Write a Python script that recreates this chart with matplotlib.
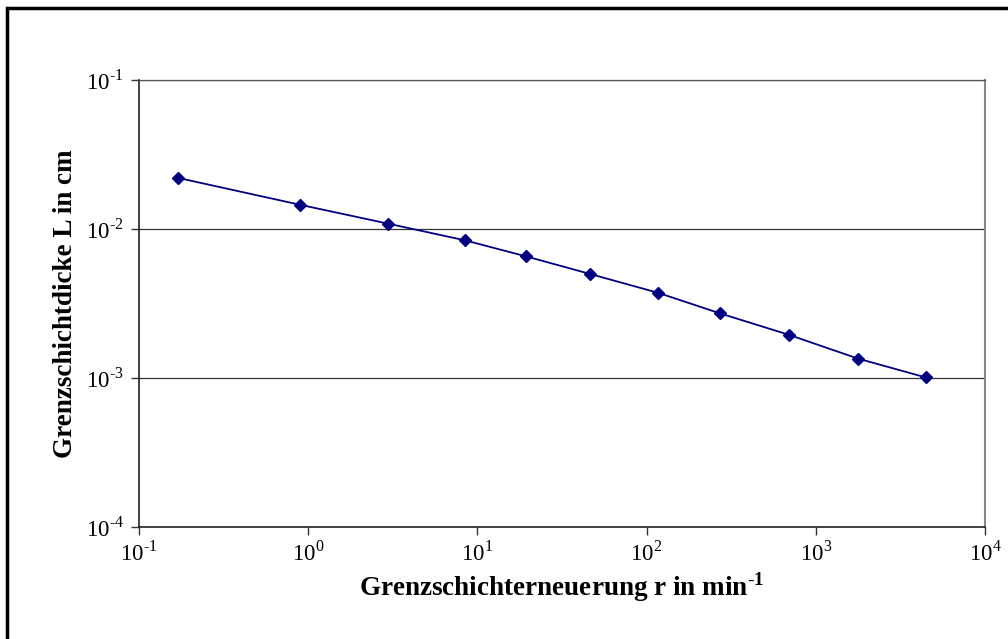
import numpy as np
import matplotlib
matplotlib.use("Agg")
import matplotlib.pyplot as plt
from matplotlib.patches import Rectangle
from matplotlib.ticker import FixedLocator, FuncFormatter, NullLocator

# ── Data ─────────────────────────────────────────────────────────────────────
r_renewal = [0.171, 0.893, 2.98, 8.46, 19.4, 46.1, 117, 273, 693, 1774, 4454]   # min^-1
thickness = [0.0220, 0.01455, 0.01085, 0.00839, 0.00655, 0.00500,
             0.00373, 0.00271, 0.00195, 0.00135, 0.00101]                         # cm

x_ticks = [1e-1, 1e0, 1e1, 1e2, 1e3, 1e4]
y_ticks = [1e-4, 1e-3, 1e-2, 1e-1]

xlabel = r"Grenzschichterneuerung r in min$^{\mathbf{\text{-}1}}$"
ylabel = "Grenzschichtdicke L in cm"

# ── Style ────────────────────────────────────────────────────────────────────
plt.rcParams["font.family"] = "Liberation Serif"
plt.rcParams["mathtext.fontset"] = "custom"
plt.rcParams["mathtext.rm"] = "Liberation Serif"
plt.rcParams["mathtext.bf"] = "Liberation Serif:bold"


def pow10(v, pos):
    e = int(round(np.log10(v)))
    return r"10$^{\text{%s}}$" % (("-" if e < 0 else "") + str(abs(e)))


fig = plt.figure(figsize=(10.08, 6.39), dpi=100)
ax = fig.add_axes([139 / 1008, 1 - 527 / 639, 846 / 1008, 447 / 639])

ax.plot(r_renewal, thickness, color="#000080", lw=1.3, marker="D",
        markersize=6, markerfacecolor="#000080", markeredgecolor="#000080")

ax.set_xscale("log")
ax.set_yscale("log")
ax.set_xlim(1e-1, 1e4)
ax.set_ylim(1e-4, 1e-1)

ax.xaxis.set_major_locator(FixedLocator(x_ticks))
ax.yaxis.set_major_locator(FixedLocator(y_ticks))
ax.xaxis.set_minor_locator(NullLocator())
ax.yaxis.set_minor_locator(NullLocator())
ax.xaxis.set_major_formatter(FuncFormatter(pow10))
ax.yaxis.set_major_formatter(FuncFormatter(pow10))

ax.tick_params(axis="both", direction="out", length=6, width=1, color="#333333",
               labelsize=16.5, pad=5)
ax.tick_params(axis="x", pad=4)

# horizontal gridlines at the major y ticks
ax.yaxis.grid(True, color="#333333", lw=0.9)
ax.xaxis.grid(False)
ax.set_axisbelow(True)

for side in ["left", "bottom"]:
    ax.spines[side].set_color("#222222")
    ax.spines[side].set_linewidth(1.2)
ax.spines["top"].set_color("#555555")
ax.spines["top"].set_linewidth(0.9)
ax.spines["right"].set_color("#888888")
ax.spines["right"].set_linewidth(1.5)

ax.set_xlabel(xlabel, fontsize=19.5, fontweight="bold")
ax.set_ylabel(ylabel, fontsize=19.5, fontweight="bold")
ax.xaxis.set_label_coords(0.5, (527 - 570) / 447)
ax.yaxis.set_label_coords((78 - 139) / 846, 0.5)

# outer chart frame (only top/left edges visible in the crop)
fig.patches.append(Rectangle((7 / 1008, -0.05), 1.2, 1 - 7.5 / 639 + 0.05,
                             transform=fig.transFigure, fill=False,
                             edgecolor="black", lw=2.5))

fig.savefig("out.png", dpi=100)
